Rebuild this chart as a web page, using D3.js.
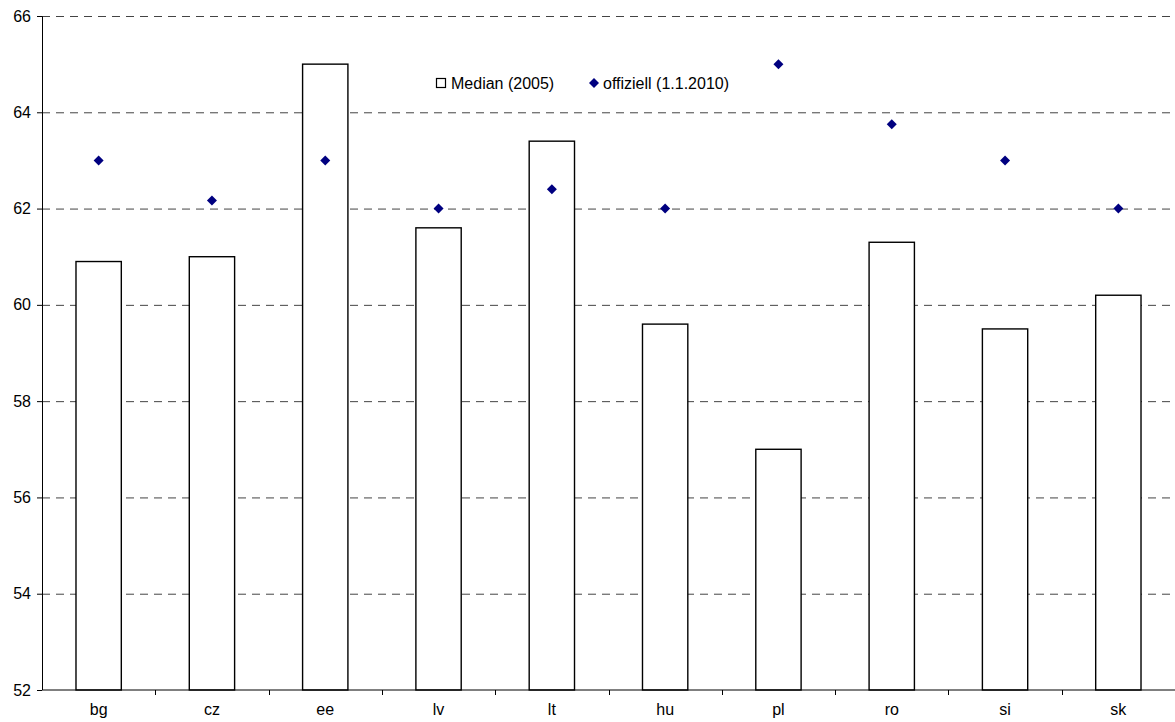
<!DOCTYPE html>
<html>
<head>
<meta charset="utf-8">
<script src="https://cdn.jsdelivr.net/npm/d3@7"></script>
<style>
  body { margin: 0; background: #fff; }
  svg { display: block; font-family: "Liberation Sans", Arial, sans-serif; }
</style>
</head>
<body>
<svg id="chart" width="1175" height="722"></svg>
<script>
// chart data
const countries = ['bg', 'cz', 'ee', 'lv', 'lt', 'hu', 'pl', 'ro', 'si', 'sk'];
const median2005 = [60.9, 61.0, 65.0, 61.6, 63.4, 59.6, 57.0, 61.3, 59.5, 60.2];
const official2010 = [63.0, 62.17, 63.0, 62.0, 62.4, 62.0, 65.0, 63.75, 63.0, 62.0];
const yTicks = [52, 54, 56, 58, 60, 62, 64, 66];
const legendLabels = ['Median (2005)', 'offiziell (1.1.2010)'];

const svg = d3.select('#chart');
const margin = { top: 16, right: 0, bottom: 32, left: 42 };
const width = 1175 - margin.left - margin.right;
const height = 722 - margin.top - margin.bottom;

const g = svg.append('g')
    .attr('transform', `translate(${margin.left},${margin.top})`);

const x = d3.scaleBand()
    .domain(countries)
    .range([0, width])
    .padding(0);

const y = d3.scaleLinear()
    .domain([52, 66])
    .range([height, 0]);

// dashed gridlines
g.selectAll('.grid')
    .data(yTicks.filter(d => d > 52))
    .enter()
    .append('line')
    .attr('x1', 0)
    .attr('x2', width)
    .attr('y1', d => y(d) + 0.5)
    .attr('y2', d => y(d) + 0.5)
    .attr('stroke', '#444')
    .attr('stroke-width', 1)
    .attr('stroke-dasharray', '8,6');

// bars
const barW = x.bandwidth() * 0.4;
g.selectAll('.bar')
    .data(median2005)
    .enter()
    .append('rect')
    .attr('x', (d, i) => x(countries[i]) + (x.bandwidth() - barW) / 2)
    .attr('y', d => y(d))
    .attr('width', barW)
    .attr('height', d => height - y(d))
    .attr('fill', '#fff')
    .attr('stroke', '#000')
    .attr('stroke-width', 1.4);

// official retirement age markers
const diamond = d3.symbol().type(d3.symbolSquare).size(50);
g.selectAll('.dot')
    .data(official2010)
    .enter()
    .append('path')
    .attr('d', diamond)
    .attr('transform', (d, i) => `translate(${x(countries[i]) + x.bandwidth() / 2},${y(d)}) rotate(45)`)
    .attr('fill', '#000080');

// Y axis
const yAxis = g.append('g')
    .call(d3.axisLeft(y).tickValues(yTicks).tickSize(5).tickPadding(6).tickFormat(d3.format('d')));
yAxis.select('.domain').attr('stroke', '#000').attr('d', `M-5,0.5H0.5V${height}`);
yAxis.selectAll('.tick line').attr('stroke', '#000');
yAxis.selectAll('text')
    .style('font-size', '16px')
    .attr('fill', '#000');

// X axis with ticks at category boundaries
const xAxisG = g.append('g')
    .attr('transform', `translate(0,${height})`);
xAxisG.append('line')
    .attr('x1', 0).attr('x2', width)
    .attr('y1', 0).attr('y2', 0)
    .attr('stroke', '#000');
xAxisG.selectAll('.xtick')
    .data(countries.slice(1))
    .enter()
    .append('line')
    .attr('x1', d => Math.round(x(d)) + 0.5)
    .attr('x2', d => Math.round(x(d)) + 0.5)
    .attr('y1', 0).attr('y2', 5)
    .attr('stroke', '#000');
xAxisG.selectAll('.xlabel')
    .data(countries)
    .enter()
    .append('text')
    .attr('x', d => x(d) + x.bandwidth() / 2)
    .attr('y', 25)
    .attr('text-anchor', 'middle')
    .style('font-size', '16px')
    .text(d => d);

// legend
const legend = svg.append('g');
legend.append('rect')
    .attr('x', 436.5).attr('y', 78.5)
    .attr('width', 9).attr('height', 9)
    .attr('fill', '#fff')
    .attr('stroke', '#000')
    .attr('stroke-width', 1.2);
legend.append('text')
    .attr('x', 451).attr('y', 89)
    .style('font-size', '16px')
    .text(legendLabels[0]);
legend.append('path')
    .attr('d', diamond)
    .attr('transform', 'translate(594,83) rotate(45)')
    .attr('fill', '#000080');
legend.append('text')
    .attr('x', 603).attr('y', 89)
    .style('font-size', '16px')
    .text(legendLabels[1]);
</script>
</body>
</html>
